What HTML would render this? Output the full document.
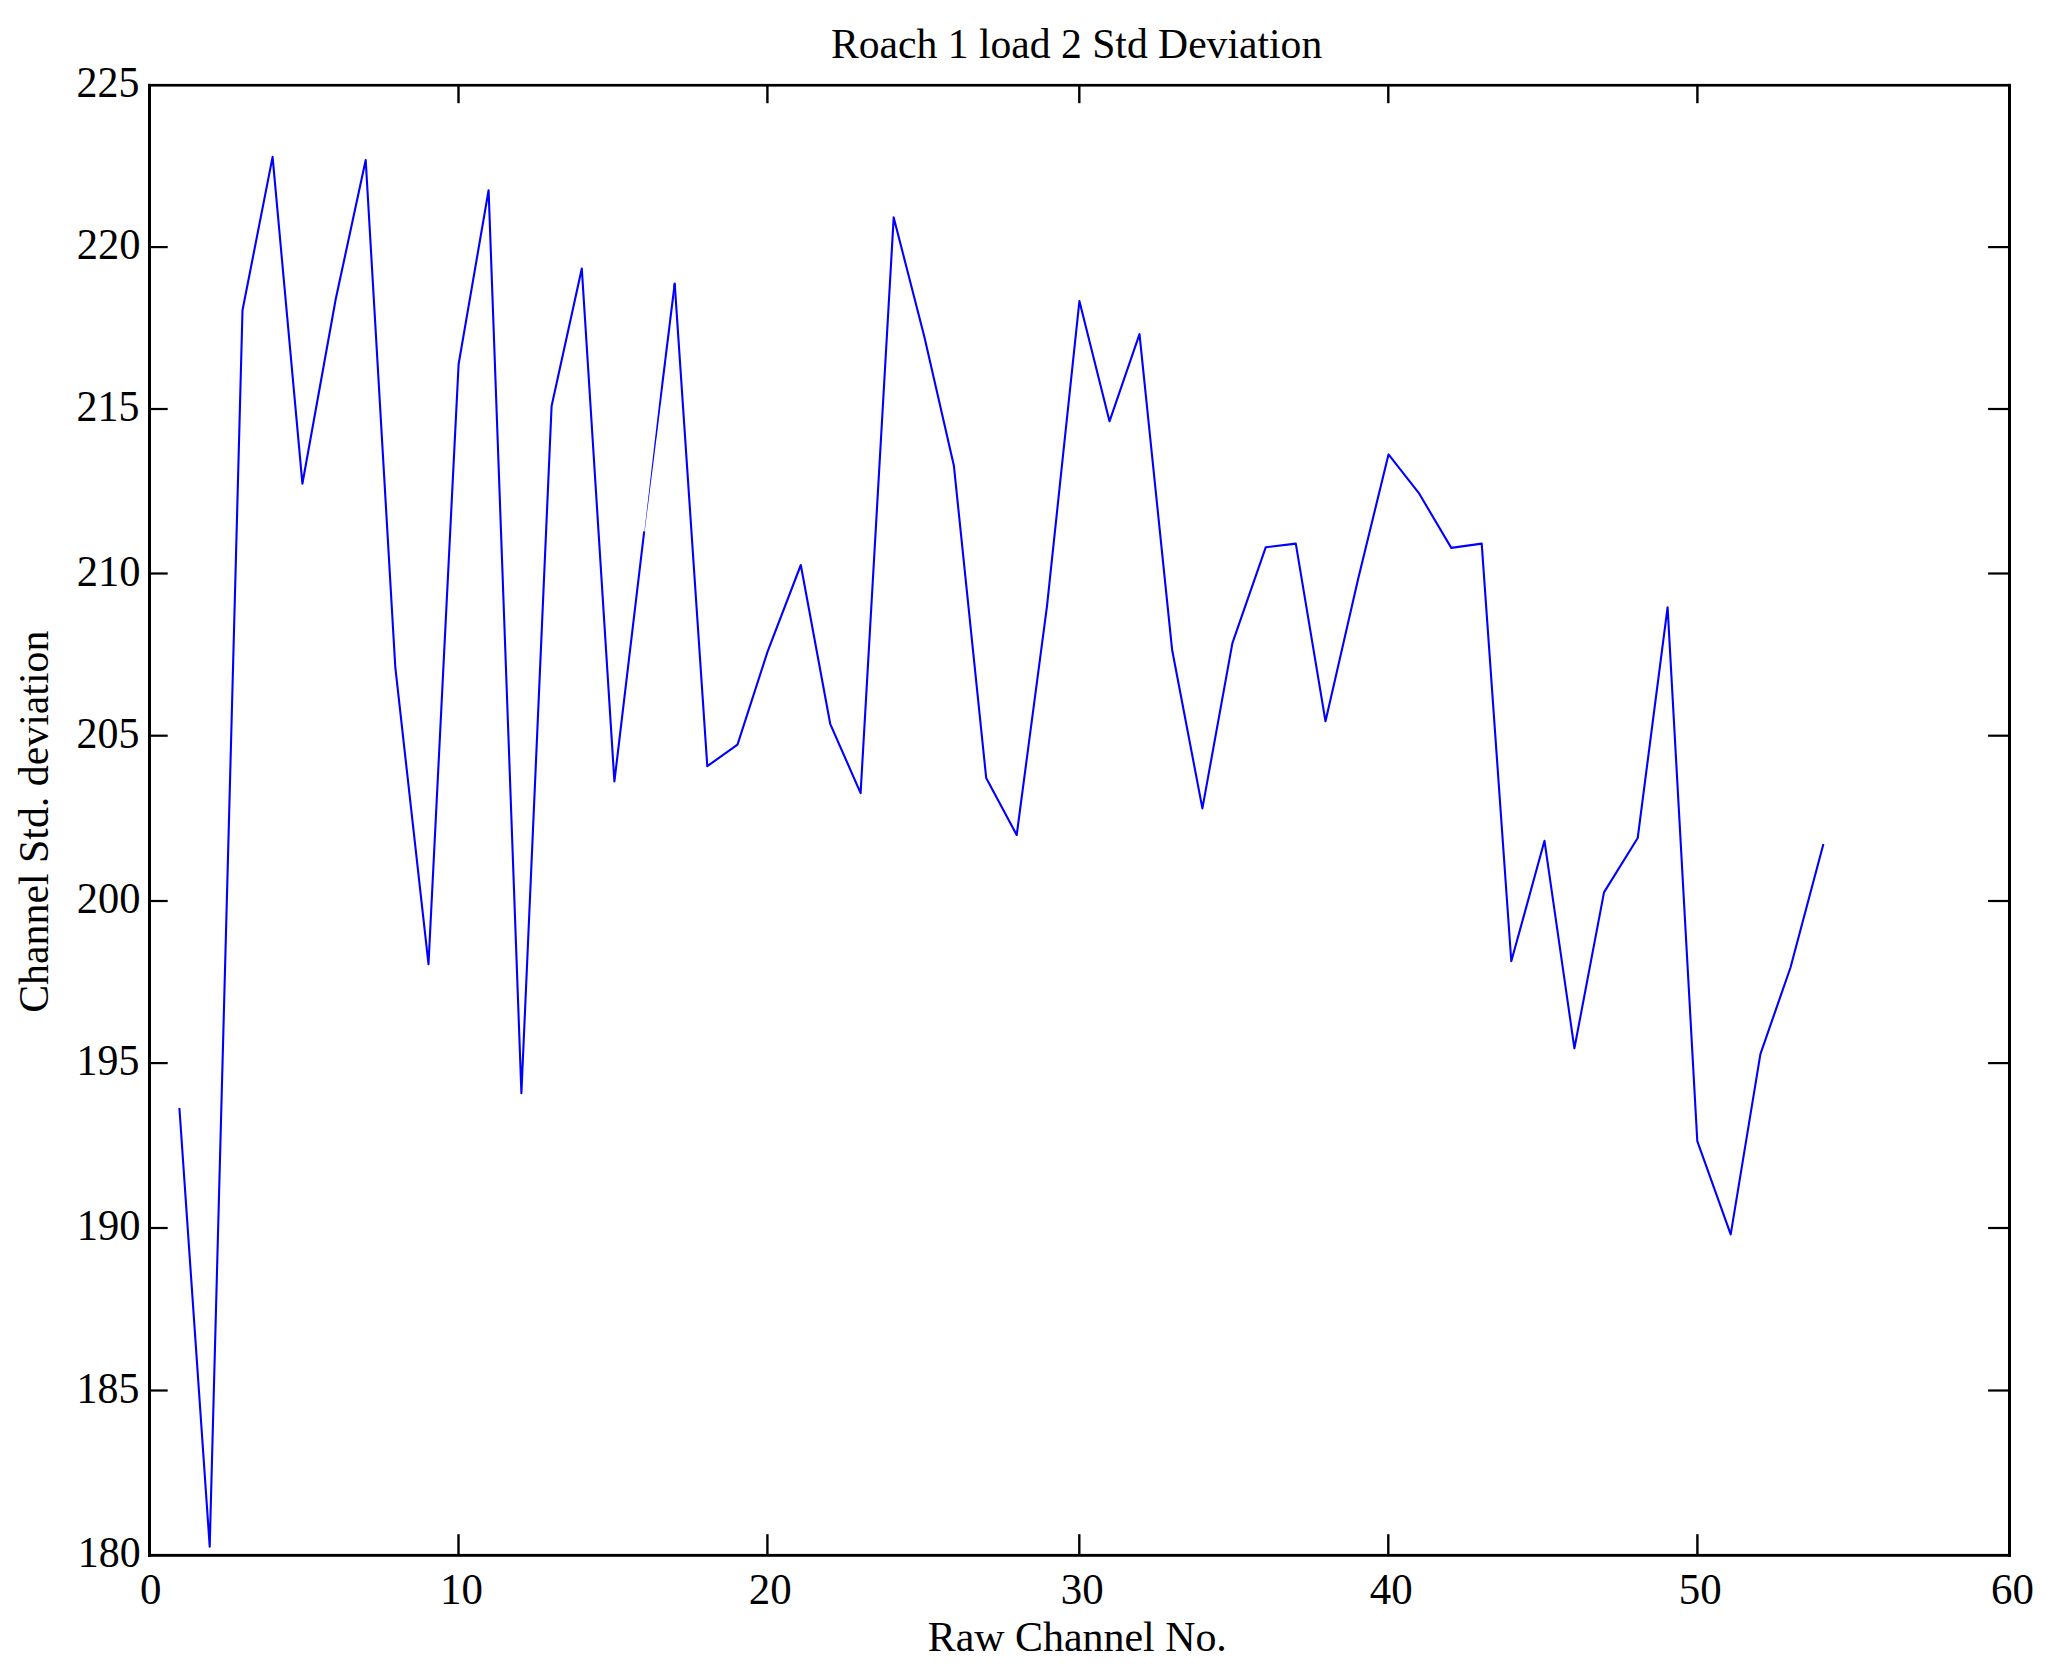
<!DOCTYPE html>
<html><head><meta charset="utf-8"><title>Roach 1 load 2 Std Deviation</title>
<style>
html,body{margin:0;padding:0;background:#fff;}
body{width:2046px;height:1671px;overflow:hidden;}
svg{display:block;}
text{font-family:"Liberation Serif","Times New Roman",Times,serif;font-size:42.5px;fill:#000;}
</style></head><body>
<svg width="2046" height="1671" viewBox="0 0 2046 1671">
<rect x="0" y="0" width="2046" height="1671" fill="#fff"/>
<path d="M179.4 1108.0 L209.7 1546.6 L242.5 310.3 L272.6 156.9 L302.4 483.7 L335.7 299.3 L365.7 160.0 L395.3 667.2 L428.5 964.2 L458.6 364.3 L488.6 190.2 L521.4 1093.2 L551.6 406.0 L581.8 268.5 L614.4 781.5 L644.2 531.3" fill="none" stroke="#0000ff" stroke-width="2.1" stroke-linejoin="round" stroke-linecap="butt"/>
<path d="M674.2 287.3 L674.7 283.6 L707.3 766.2 L737.5 744.6 L767.4 652.1 L800.8 565.0 L830.2 723.8 L860.6 793.1 L893.7 217.4 L924.4 337.0 L953.9 465.8 L986.2 778.0 L1016.7 835.0 L1047.0 606.1 L1079.4 301.1 L1109.5 421.3 L1139.5 334.2 L1172.1 649.7 L1202.4 808.4 L1232.4 643.1 L1265.8 547.2 L1295.8 543.6 L1325.5 721.3 L1358.0 579.6 L1388.5 454.4 L1418.7 492.8 L1451.3 547.9 L1481.7 543.6 L1511.3 961.3 L1544.5 840.8 L1574.4 1048.3 L1604.0 892.4 L1637.7 838.0 L1667.6 607.2 L1697.3 1141.2 L1730.7 1234.3 L1760.4 1054.1 L1790.5 967.5 L1823.4 843.9" fill="none" stroke="#0000ff" stroke-width="2.1" stroke-linejoin="round" stroke-linecap="butt"/>
<polygon points="644.70,531.32 663.54,382.81 675.74,283.73 673.66,283.47 661.46,382.55 644.40,531.28" fill="#0000ff"/>
<g fill="#000">
<rect x="148" y="83.9" width="3" height="1473"/>
<rect x="2008" y="83.9" width="3" height="1473"/>
<rect x="148" y="83.9" width="1863" height="2.7"/>
<rect x="148" y="1553.9" width="1863" height="2.9"/>
<rect x="457.3" y="1534.2" width="2.4" height="20.5"/>
<rect x="457.3" y="85.7" width="2.4" height="17.5"/>
<rect x="766.2" y="1534.2" width="2.4" height="20.5"/>
<rect x="766.2" y="85.7" width="2.4" height="17.5"/>
<rect x="1078.1" y="1534.2" width="2.4" height="20.5"/>
<rect x="1078.1" y="85.7" width="2.4" height="17.5"/>
<rect x="1387.1" y="1534.2" width="2.4" height="20.5"/>
<rect x="1387.1" y="85.7" width="2.4" height="17.5"/>
<rect x="1696.2" y="1534.2" width="2.4" height="20.5"/>
<rect x="1696.2" y="85.7" width="2.4" height="17.5"/>
<rect x="149" y="246.0" width="18.7" height="2.2"/>
<rect x="1988.1" y="246.0" width="21" height="2.2"/>
<rect x="149" y="407.9" width="18.7" height="2.2"/>
<rect x="1988.1" y="407.9" width="21" height="2.2"/>
<rect x="149" y="572.4" width="18.7" height="2.2"/>
<rect x="1988.1" y="572.4" width="21" height="2.2"/>
<rect x="149" y="734.6" width="18.7" height="2.2"/>
<rect x="1988.1" y="734.6" width="21" height="2.2"/>
<rect x="149" y="899.9" width="18.7" height="2.2"/>
<rect x="1988.1" y="899.9" width="21" height="2.2"/>
<rect x="149" y="1062.0" width="18.7" height="2.2"/>
<rect x="1988.1" y="1062.0" width="21" height="2.2"/>
<rect x="149" y="1226.9" width="18.7" height="2.2"/>
<rect x="1988.1" y="1226.9" width="21" height="2.2"/>
<rect x="149" y="1389.4" width="18.7" height="2.2"/>
<rect x="1988.1" y="1389.4" width="21" height="2.2"/>
</g>
<text transform="translate(150.8 1604) scale(1.01 1.05)" style="font-size:42.5px" text-anchor="middle">0</text>
<text transform="translate(461.4 1604) scale(1.01 1.05)" style="font-size:42.5px" text-anchor="middle">10</text>
<text transform="translate(770.3 1604) scale(1.01 1.05)" style="font-size:42.5px" text-anchor="middle">20</text>
<text transform="translate(1082.2 1604) scale(1.01 1.05)" style="font-size:42.5px" text-anchor="middle">30</text>
<text transform="translate(1391.2 1604) scale(1.01 1.05)" style="font-size:42.5px" text-anchor="middle">40</text>
<text transform="translate(1700.3 1604) scale(1.01 1.05)" style="font-size:42.5px" text-anchor="middle">50</text>
<text transform="translate(2012.4 1604) scale(1.01 1.05)" style="font-size:42.5px" text-anchor="middle">60</text>
<text transform="translate(139.3 97.4) scale(0.985 1.05)" style="font-size:42.5px" text-anchor="end">225</text>
<text transform="translate(140.6 259.3) scale(1.0 1.05)" style="font-size:42.5px" text-anchor="end">220</text>
<text transform="translate(139.3 421.2) scale(0.985 1.05)" style="font-size:42.5px" text-anchor="end">215</text>
<text transform="translate(140.6 585.7) scale(1.0 1.05)" style="font-size:42.5px" text-anchor="end">210</text>
<text transform="translate(139.3 747.9) scale(0.985 1.05)" style="font-size:42.5px" text-anchor="end">205</text>
<text transform="translate(140.6 913.2) scale(1.0 1.05)" style="font-size:42.5px" text-anchor="end">200</text>
<text transform="translate(139.3 1075.3) scale(0.985 1.05)" style="font-size:42.5px" text-anchor="end">195</text>
<text transform="translate(140.6 1240.2) scale(1.0 1.05)" style="font-size:42.5px" text-anchor="end">190</text>
<text transform="translate(139.3 1402.7) scale(0.985 1.05)" style="font-size:42.5px" text-anchor="end">185</text>
<text transform="translate(140.6 1567.4) scale(0.985 1.05)" style="font-size:42.5px" text-anchor="end">180</text>
<text transform="translate(1076.6 57.8) scale(0.9796 1)" text-anchor="middle">Roach 1 load 2 Std Deviation</text>
<text transform="translate(1077.3 1651.1) scale(0.986 1)" text-anchor="middle">Raw Channel No.</text>
<text transform="translate(48.2 821.7) rotate(-90) scale(0.9845 1)" text-anchor="middle">Channel Std. deviation</text>
</svg></body></html>
